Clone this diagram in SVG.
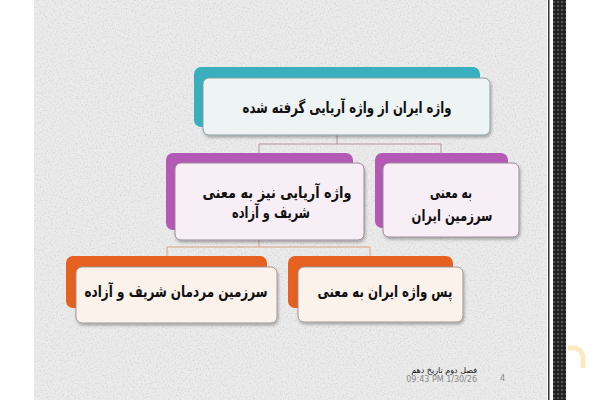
<svg xmlns="http://www.w3.org/2000/svg" width="600" height="400" viewBox="0 0 600 400">
<defs>
<filter id="noise" x="0" y="0" width="100%" height="100%">
<feTurbulence type="fractalNoise" baseFrequency="0.6" numOctaves="2" seed="3" result="n"/>
<feColorMatrix in="n" type="matrix" values="0 0 0 0 0.62  0 0 0 0 0.62  0 0 0 0 0.62  0 0 0 1.8 -0.85" result="dots"/>
<feComposite in="dots" in2="SourceGraphic" operator="in" result="d2"/>
<feMerge><feMergeNode in="SourceGraphic"/><feMergeNode in="d2"/></feMerge>
</filter>
<filter id="sh" x="-10%" y="-10%" width="120%" height="130%">
<feDropShadow dx="1" dy="2" stdDeviation="1.5" flood-color="#000" flood-opacity="0.3"/>
</filter>
<pattern id="dots" width="4" height="4" patternUnits="userSpaceOnUse">
<rect width="4" height="4" fill="#222"/>
<circle cx="2" cy="2" r="1" fill="#666"/>
</pattern>
<style>
.t{font-family:"DejaVu Sans","Noto Sans",sans-serif;font-weight:bold;font-size:16px;fill:#111;text-anchor:middle}
.f{font-family:"DejaVu Sans","Noto Sans",sans-serif;font-size:8px}
.tealb{fill:#3aafbd}
.tealf{fill:#eef3f4;stroke:#8aa0a3;stroke-width:1}
.purb{fill:#b45ab6}
.purf{fill:#f8eef6;stroke:#9a8a98;stroke-width:1}
.orb{fill:#e6601f}
.orf{fill:#fbf2ec;stroke:#a09890;stroke-width:1}
.c1{fill:none;stroke:#b8909f;stroke-width:1}
.c2{fill:none;stroke:#d9a07a;stroke-width:1}
</style>
</defs>
<rect width="600" height="400" fill="#fff"/>
<rect x="34" y="0" width="513" height="400" fill="#ebebeb" filter="url(#noise)"/>
<rect x="548" y="0" width="1.5" height="400" fill="#333"/>
<rect x="553" y="0" width="13" height="400" fill="url(#dots)"/>
<path d="M568 348 Q582 346 583 358 L583 368" fill="none" stroke="#fbe0a8" stroke-width="5" opacity="0.7"/>

<g id="connectors">
<path class="c1" d="M337 135 V144 M259 144 H441 M259 144 V153 M441 144 V153"/>
<path class="c2" d="M259 240 V247 M167 247 H370 M167 247 V256 M370 247 V256"/>
</g>

<g id="n1">
<rect class="tealb" x="194" y="67" width="286" height="60" rx="7"/>
<rect class="tealf" x="203" y="78" width="287" height="57" rx="6" filter="url(#sh)"/>
<text class="t" x="347" y="113" textLength="209" lengthAdjust="spacingAndGlyphs">واژه ایران از واژه آریایی گرفته شده</text>
</g>

<g id="n2">
<rect class="purb" x="166" y="153" width="187" height="77" rx="7"/>
<rect class="purf" x="175" y="163" width="189" height="77" rx="6" filter="url(#sh)"/>
<text class="t" x="277" y="198" textLength="149" lengthAdjust="spacingAndGlyphs">واژه آریایی نیز به معنی</text>
<text class="t" x="271" y="218" textLength="78" lengthAdjust="spacingAndGlyphs">شریف و آزاده</text>
</g>

<g id="n3">
<rect class="purb" x="375" y="153" width="133" height="75" rx="7"/>
<rect class="purf" x="383" y="163" width="136" height="74" rx="6" filter="url(#sh)"/>
<text class="t" x="451" y="198" textLength="42" lengthAdjust="spacingAndGlyphs">به معنی</text>
<text class="t" x="452" y="221" textLength="81" lengthAdjust="spacingAndGlyphs">سرزمین ایران</text>
</g>

<g id="n4">
<rect class="orb" x="66" y="256" width="201" height="52" rx="7"/>
<rect class="orf" x="76" y="267" width="201" height="56" rx="6" filter="url(#sh)"/>
<text class="t" x="176" y="297" textLength="183" lengthAdjust="spacingAndGlyphs">سرزمین مردمان شریف و آزاده</text>
</g>

<g id="n5">
<rect class="orb" x="288" y="256" width="165" height="52" rx="7"/>
<rect class="orf" x="298" y="267" width="165" height="55" rx="6" filter="url(#sh)"/>
<text class="t" x="385" y="297" textLength="135" lengthAdjust="spacingAndGlyphs">پس واژه ایران به معنی</text>
</g>

<text class="f" x="477" y="373" text-anchor="end" fill="#111">فصل دوم تاریخ دهم</text>
<text class="f" x="477" y="382" text-anchor="end" fill="#888">09:43 PM 1/30/26</text>
<text class="f" x="500" y="381" fill="#888">4</text>
</svg>
